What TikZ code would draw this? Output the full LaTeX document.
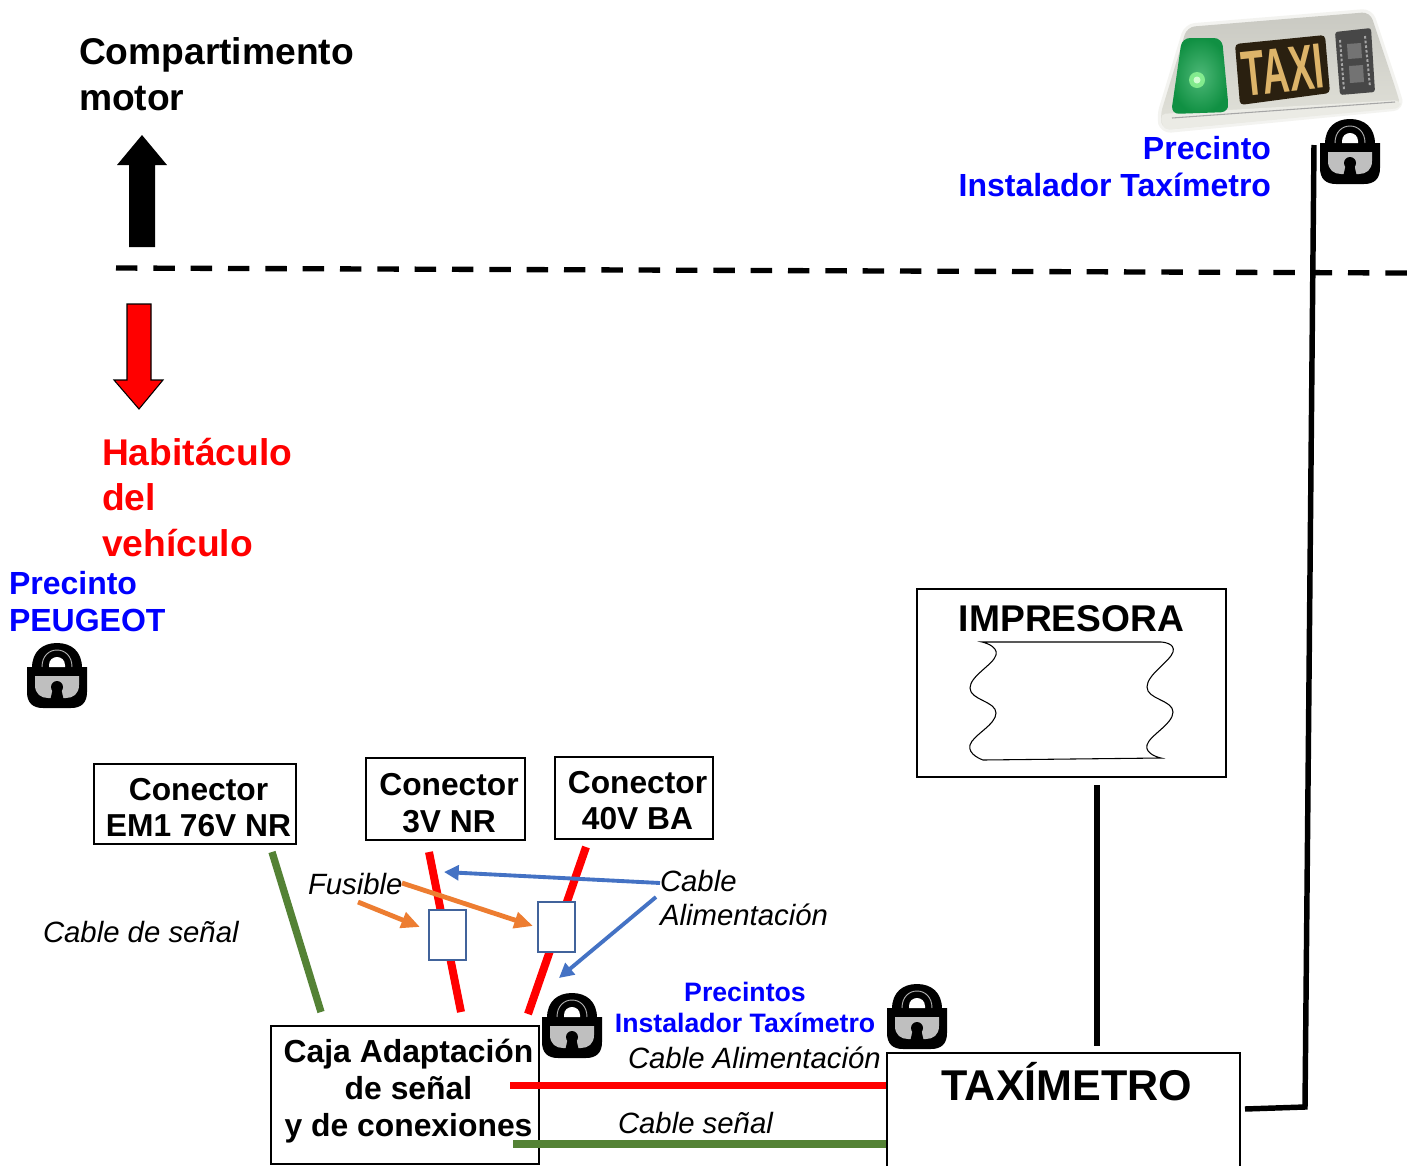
\documentclass[tikz,border=0pt]{standalone}
\usepackage{fontspec}
\setmainfont{Liberation Sans}
\usetikzlibrary{arrows.meta,calc}
\definecolor{fblue}{HTML}{41639B}
\definecolor{ablue}{HTML}{4472C4}
\definecolor{aorange}{HTML}{ED7D31}
\definecolor{cgreen}{HTML}{548235}
\definecolor{pblue}{HTML}{0000FF}
\definecolor{taxibody}{HTML}{E2E2DA}
\definecolor{taxitop}{HTML}{C9C9C2}
\definecolor{taxiglass}{HTML}{12A04A}
\definecolor{taxiamber}{HTML}{DDB469}
\definecolor{taxidark}{HTML}{2A2010}
\tikzset{
  txt/.style={inner sep=0pt,outer sep=0pt,anchor=north west,align=left},
  boxn/.style={draw=black,line width=1.5pt,fill=white,inner sep=0pt,align=center},
  bigb/.style={font=\fontsize{27.9}{34.1}\selectfont\bfseries},
  blueb/.style={font=\fontsize{24}{27.8}\selectfont\bfseries,text=pblue},
  ital/.style={font=\fontsize{22}{25.6}\selectfont\itshape},
  conn/.style={inner sep=0pt,align=center,font=\fontsize{23.8}{27.2}\selectfont\bfseries},
  redw/.style={draw=red,line width=6pt},
  greenw/.style={draw=cgreen,line width=5.5pt},
  blackw/.style={draw=black,line width=4.1pt},
  fuse/.style={draw=fblue,line width=1.9pt,fill=white,inner sep=0pt},
  orarrow/.style={draw=aorange,line width=3.6pt,-{Triangle[length=14pt,width=12pt]}},
  blarrow/.style={draw=ablue,line width=2.9pt,-{Triangle[length=11pt,width=11pt]}},
  lock/.pic={
    \fill[black] (-30,-9) -- (30,-9) -- (30,16) .. controls (30,27) and (24,32) .. (14,32) -- (-14,32) .. controls (-24,32) and (-30,27) .. (-30,16) -- cycle;
    \fill[black] (-25,-5) -- (-25,-8) .. controls (-25,-25) and (-14,-33) .. (0,-33) .. controls (14,-33) and (25,-25) .. (25,-8) -- (25,-5) -- cycle;
    \fill[white] (-8,-9) -- (-8,-11) .. controls (-8,-16) and (-4,-19) .. (0,-19) .. controls (4,-19) and (8,-16) .. (8,-11) -- (8,-9) -- cycle;
    \draw[gray!60,line width=.7pt] (-15,-9) .. controls (-15,-20) and (-8,-26) .. (0,-26) .. controls (8,-26) and (15,-20) .. (15,-9);
    \fill[black!25] (-22,0) -- (22,0) -- (22,9) .. controls (22,18) and (16,22) .. (9,22) -- (-9,22) .. controls (-16,22) and (-22,18) .. (-22,9) -- cycle;
    \fill[black] (0,11) circle (6);
    \fill[black] (-4,12) -- (4,12) -- (7,25) -- (-7,25) -- cycle;
  },
}
\begin{document}
\begin{tikzpicture}[x=0.75pt,y=-0.75pt]
\useasboundingbox (0,0) rectangle (1415,1165);
\fill[white] (0,0) rectangle (1415,1165);

% taxi sign
\draw[taxibody,line width=5pt,opacity=.4,rounded corners=6,line join=round]
  (1160,116) -- (1187,27) -- (1370,12) -- (1397,93) -- (1401,107) -- (1163,130) -- cycle;
\shade[top color=taxitop,bottom color=taxibody,draw=none,rounded corners=6]
  (1160,116) -- (1187,27) -- (1370,12) -- (1397,93) -- (1401,107) -- (1163,130) -- cycle;
\fill[taxibody!70!white,rounded corners=4]
  (1160,114) -- (1400,100) -- (1401,108) -- (1164,130) -- cycle;
\draw[black!35,line width=.8pt] (1172,118) -- (1395,102);
\shade[inner color=taxiglass!75!white,outer color=taxiglass!90!black,rounded corners=6]
  (1182,38) -- (1222,38) -- (1229,112) -- (1171,114) -- cycle;
\fill[white!60!green,opacity=.75] (1197,80) circle (8);
\fill[white!85!green,opacity=.9] (1197,80) circle (3.5);
\fill[taxidark,rounded corners=3] (1235,44) -- (1325,35) -- (1330,93) -- (1240,105) -- cycle;
\fill[black!72,rounded corners=2] (1335,32) -- (1371,28) -- (1375,92) -- (1340,95) -- cycle;
\draw[black!35,line width=1.5pt,dash pattern=on 2pt off 1.5pt] (1340,40) -- (1344,90);
\draw[black!35,line width=1.5pt,dash pattern=on 2pt off 1.5pt] (1365,36) -- (1370,87);
\fill[black!55] (1347,44) -- (1361,43) -- (1362,58) -- (1348,59) -- cycle;
\fill[black!55] (1349,66) -- (1363,65) -- (1364,82) -- (1350,83) -- cycle;
\node[inner sep=0pt,rotate=6,xscale=.58,text=taxiamber,font=\fontsize{48}{48}\selectfont\bfseries] (taxisign) at (1283,70) {TAXI};

% dashed boundary
\coordinate (dashA) at (116,268);
\coordinate (dashB) at (1408,273);
\draw[black,line width=4pt,dash pattern=on 16.1pt off 11.9pt] (dashA) -- (dashB);

% direction arrows
\fill[black] (129,247) -- (129,165) -- (117,165) -- (142,135) -- (167,165) -- (155,165) -- (155,247) -- cycle;
\draw[black,line width=.8pt,fill=red] (127,304) -- (151,304) -- (151,380) -- (163,380) -- (139,409) -- (114,380) -- (127,380) -- cycle;

% area labels
\node[txt,bigb] (motor) at (79,38) {Compartimento\\motor};
\node[txt,bigb,text=red] (hab) at (102,438) {Habitáculo\\del\\vehículo};
\node[txt,blueb] (ppeu) at (9,571) {Precinto\\PEUGEOT};
\node[txt,blueb,align=right,anchor=north east] (ptax) at (1271,136.5) {Precinto\\Instalador Taxímetro};

% boxes
\node[boxn,minimum width=309pt*.75,minimum height=188pt*.75,anchor=north west] (imp) at (916,588) {};
\node[inner sep=0pt,font=\fontsize{27.9}{30}\selectfont\bfseries] (imptxt) at (1071.5,619) {IMPRESORA};
\draw[black,line width=.8pt,fill=white]
  plot[smooth,tension=.75] coordinates {(982,642) (996,655) (970,688) (996,713) (970,745) (983,760)}
  -- plot[smooth,tension=.75] coordinates {(1161,758) (1147,745) (1173,712) (1147,687) (1173,652) (1161,642)}
  -- cycle;

\node[boxn,minimum width=202pt*.75,minimum height=80pt*.75,anchor=north west] (em) at (93,763) {};
\node[boxn,minimum width=159pt*.75,minimum height=82pt*.75,anchor=north west] (c3) at (365,757) {};
\node[boxn,minimum width=158pt*.75,minimum height=82pt*.75,anchor=north west] (c40) at (554,756) {};
\node[conn] (emt) at (198.5,807.5) {Conector\\EM1 76V NR};
\node[conn] (c3t) at (449,803) {Conector\\3V NR};
\node[conn] (c40t) at (637.5,800.5) {Conector\\40V BA};

% free wire ends
\coordinate (r1a) at (429,852);
\coordinate (r1b) at (461,1012);
\coordinate (r2a) at (586,847);
\coordinate (r2b) at (528,1014);
\coordinate (g1a) at (272,852);
\coordinate (g1b) at (321,1012);
\draw[redw] (r1a) -- (r1b);
\draw[redw] (r2a) -- (r2b);
\draw[greenw] (g1a) -- (g1b);

\node[fuse,minimum width=37pt*.75,minimum height=50pt*.75,anchor=north west] (f1) at (427.5,908.5) {};
\node[fuse,minimum width=37pt*.75,minimum height=50pt*.75,anchor=north west] (f2) at (536.5,900.5) {};

% annotation arrows
\node[txt,ital] (fus) at (308,873) {Fusible};
\node[txt,ital] (cabA) at (660,870) {Cable\\Alimentación};
\node[txt,ital] (cabS) at (43,921) {Cable de señal};
\coordinate (o1a) at (358,902); \coordinate (o1b) at (420,927);
\coordinate (o2a) at (402,883); \coordinate (o2b) at (533,926);
\coordinate (b1a) at (660,883); \coordinate (b1b) at (444,872);
\coordinate (b2a) at (656,897); \coordinate (b2b) at (559,978);
\draw[orarrow] (o1a) -- (o1b);
\draw[orarrow] (o2a) -- (o2b);
\draw[blarrow] (b1a) -- (b1b);
\draw[blarrow] (b2a) -- (b2b);

% bottom boxes
\node[boxn,minimum width=268pt*.75,minimum height=138pt*.75,anchor=north west] (caja) at (270,1025) {};
\node[inner sep=0pt,align=center,font=\fontsize{23.9}{27.8}\selectfont\bfseries] (cajatxt) at (408.5,1091) {Caja Adaptación\\de señal\\y de conexiones};
\node[boxn,minimum width=353pt*.75,minimum height=125pt*.75,anchor=north west] (tax) at (886,1052) {};
\node[inner sep=0pt,font=\fontsize{32.3}{33}\selectfont\bfseries] (taxtxt) at (1067,1082) {TAXÍMETRO};

\coordinate (wr) at (510,1085.5);
\coordinate (wg) at (513,1144);
\draw[draw=red,line width=5.5pt] (wr) -- (tax.west |- wr);
\draw[draw=cgreen,line width=5.5pt] (wg) -- (tax.west |- wg);
\node[inner sep=0pt,align=center,font=\fontsize{20}{23.2}\selectfont\bfseries,text=pblue] (ppre) at (745,1007) {Precintos\\Instalador Taxímetro};
\node[txt,ital] (calim) at (628,1047) {Cable Alimentación};
\node[txt,ital] (cs) at (618,1112) {Cable señal};

% black cables
\coordinate (impb) at (1097,785);
\coordinate (taxt) at (1097,1046);
\draw[blackw] (impb) -- (taxt);
\coordinate (s1) at (1314,145);
\coordinate (s2) at (1305,1107);
\coordinate (s3) at (1245,1109);
\draw[blackw,miter limit=4] (s1) -- (s2) -- (s3);

% locks
\pic at (1350,152) {lock};
\pic at (57,676) {lock};
\pic at (572,1026) {lock};
\pic at (917,1017) {lock};
\end{tikzpicture}
\end{document}
